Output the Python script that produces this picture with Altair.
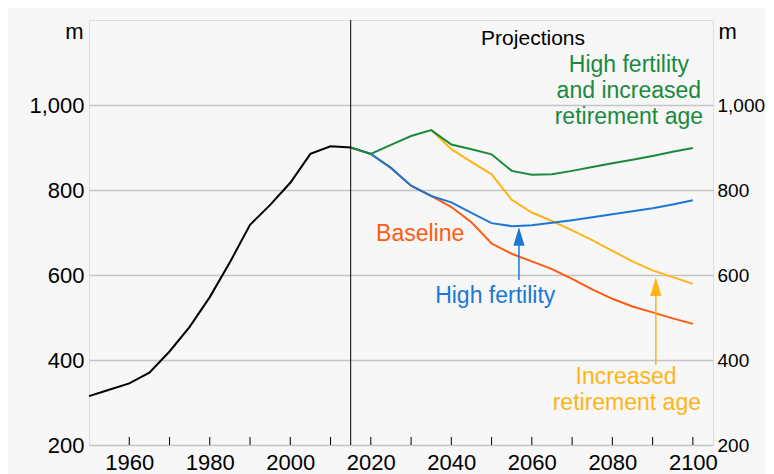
import altair as alt
import pandas as pd

# ---------------- data ----------------
hist_years = [1950, 1955, 1960, 1965, 1970, 1975, 1980, 1985, 1990, 1995, 2000, 2005, 2010, 2015]
hist_values = [315, 330, 345, 370, 420, 478, 548, 630, 718, 765, 817, 885, 903, 900]

proj_years = [2015, 2020, 2025, 2030, 2035, 2040, 2045, 2050, 2055, 2060,
              2065, 2070, 2075, 2080, 2085, 2090, 2095, 2100]
baseline = [900, 885, 852, 810, 786, 760, 724, 674, 650, 632, 614, 591, 566, 544, 526, 512, 498, 485]
high_fertility = [900, 885, 852, 810, 786, 771, 746, 722, 715, 717, 723, 729, 736, 743, 750, 757, 766, 776]
high_fert_ret = [900, 885, 906, 927, 941, 907, 896, 884, 845, 836, 837, 845, 854, 863, 871, 880, 890, 899]

ret_years = [2035, 2040, 2045, 2050, 2055, 2060, 2065, 2070, 2075, 2080, 2085, 2090, 2095, 2100]
ret_age = [941, 896, 866, 837, 777, 747, 727, 705, 682, 657, 632, 611, 595, 579]

y_ticks = [200, 400, 600, 800, 1000]
x_labels = [1960, 1980, 2000, 2020, 2040, 2060, 2080, 2100]
x_minor = [1960, 1970, 1980, 1990, 2000, 2010, 2020, 2030, 2040, 2050, 2060, 2070, 2080, 2090, 2100]
projection_start = [2015]

series_names = ["History", "High fertility and increased retirement age",
                "High fertility", "Baseline", "Increased retirement age"]
series_colors = ["#000000", "#198a3d", "#1c78d4", "#ff5a10", "#ffb418"]

# annotations (text, year, value, series)
ann_text = ["High fertility", "and increased", "retirement age",
            "Baseline", "High fertility", "Increased", "retirement age"]
ann_year = [2084.1, 2084.1, 2084.1, 2021.3, 2050.9, 2083.4, 2083.6]
ann_value = [1078, 1017, 955, 681, 535, 344, 282]
ann_series = ["High fertility and increased retirement age",
              "High fertility and increased retirement age",
              "High fertility and increased retirement age",
              "Baseline", "High fertility", "Increased retirement age", "Increased retirement age"]
ann_align = ["center", "center", "center", "left", "center", "center", "center"]

title_text = ["Projections"]
title_year = [2060.3]
title_value = [1141]

# arrows (year, shaft bottom, shaft top, head centre, series)
arrow_year = [2056.8, 2090.8]
arrow_from = [588, 388]
arrow_to = [680, 566]
arrow_head = [690.6, 572.5]
arrow_series = ["High fertility", "Increased retirement age"]

# ---------------- tables ----------------
def series_df(name, years, values):
    return pd.DataFrame({"year": years, "value": values, "series": name})

df_hist = series_df("History", hist_years, hist_values)
df_hfr = series_df("High fertility and increased retirement age", proj_years, high_fert_ret)
df_hf = series_df("High fertility", proj_years, high_fertility)
df_base = series_df("Baseline", proj_years, baseline)
df_ret = series_df("Increased retirement age", ret_years, ret_age)

ann_df = pd.DataFrame({"text": ann_text, "year": ann_year, "value": ann_value,
                       "series": ann_series, "align": ann_align})
title_df = pd.DataFrame({"text": title_text, "year": title_year, "value": title_value})
arrow_df = pd.DataFrame({"year": arrow_year, "v1": arrow_from, "v2": arrow_to,
                         "head": arrow_head, "series": arrow_series})

FONT = "Liberation Sans"
FS = 22
FS_ANN = 23

x_scale = alt.Scale(domain=[1950, 2105], nice=False, zero=False)
y_scale = alt.Scale(domain=[200, 1200], nice=False, zero=False)
color_scale = alt.Scale(domain=series_names, range=series_colors)

x_axis = alt.Axis(values=x_labels, format="d", grid=False, ticks=False, domain=False,
                  labelPadding=7, labelFontSize=FS, labelColor="#000000",
                  labelFont=FONT, title=None)
x_enc = alt.X("year:Q", scale=x_scale, axis=x_axis)
y_left_axis = alt.Axis(values=y_ticks, format=",d", grid=True, gridColor="#c4c4c4",
                       gridWidth=1.5, ticks=False, domain=False, labelPadding=5,
                       labelFontSize=FS, labelColor="#000000", labelFont=FONT,
                       title="m", titleAngle=0, titleAlign="right", titleBaseline="middle",
                       titleX=-6, titleY=11, titleFontSize=FS, titleFontWeight="normal",
                       titleFont=FONT, titleColor="#000000")
y_right_axis = alt.Axis(orient="right", values=y_ticks, format=",d", grid=False, ticks=False,
                        domain=False, labelPadding=4, labelFontSize=19,
                        labelColor="#000000", labelFont=FONT,
                        title="m", titleAngle=0, titleAlign="left", titleBaseline="middle",
                        titleX=5, titleY=11, titleFontSize=FS, titleFontWeight="normal",
                        titleFont=FONT, titleColor="#000000")
color_enc = alt.Color("series:N", scale=color_scale, legend=None)


def line_layer(d, axis):
    return alt.Chart(d).mark_line(strokeWidth=2).encode(
        x=x_enc, y=alt.Y("value:Q", scale=y_scale, axis=axis), color=color_enc)


l_ret = line_layer(df_ret, y_left_axis)
l_base = line_layer(df_base, None)
l_hf = line_layer(df_hf, None)
l_hfr = line_layer(df_hfr, None)
l_hist = line_layer(df_hist, y_right_axis)

minor = alt.Chart(pd.DataFrame({"year": x_minor})).mark_rule(color="#000000", strokeWidth=1).encode(
    x=x_enc, y=alt.value(417), y2=alt.value(425)
)

vline = alt.Chart(pd.DataFrame({"year": projection_start})).mark_rule(
    color="#000000", strokeWidth=1).encode(x=x_enc)

text_layers = []
for al in ["center", "left"]:
    sub = ann_df[ann_df["align"] == al]
    text_layers.append(
        alt.Chart(sub).mark_text(align=al, baseline="alphabetic", font=FONT, fontSize=FS_ANN).encode(
            x=x_enc, y=alt.Y("value:Q", scale=y_scale, axis=None),
            text="text:N", color=color_enc)
    )

title_layer = alt.Chart(title_df).mark_text(align="center", baseline="alphabetic", font=FONT,
                                            fontSize=21, color="#000000").encode(
    x=x_enc, y=alt.Y("value:Q", scale=y_scale, axis=None), text="text:N")

shafts = alt.Chart(arrow_df).mark_rule(strokeWidth=1.5).encode(
    x=x_enc, y=alt.Y("v1:Q", scale=y_scale, axis=None), y2="v2:Q", color=color_enc)

heads = alt.Chart(arrow_df).mark_point(shape="M0,-1L0.6,1L-0.6,1Z", filled=True, size=350,
                                       opacity=1).encode(
    x=x_enc, y=alt.Y("head:Q", scale=y_scale, axis=None), color=color_enc)

chart = alt.layer(l_ret, l_base, l_hf, l_hfr, l_hist, minor, vline, *text_layers, title_layer,
                  shafts, heads).resolve_axis(
    y="independent"
).properties(
    width=624, height=425,
    autosize=alt.AutoSizeParams(type="none"),
    padding={"left": 81, "top": 12, "right": 53, "bottom": 37},
    background="#f7f7f7",
).configure_view(
    stroke="#000000", strokeWidth=1, fill="#f7f7f7"
).configure(font=FONT)

chart.save("out.html", embed_options={"renderer": "svg", "actions": False})
